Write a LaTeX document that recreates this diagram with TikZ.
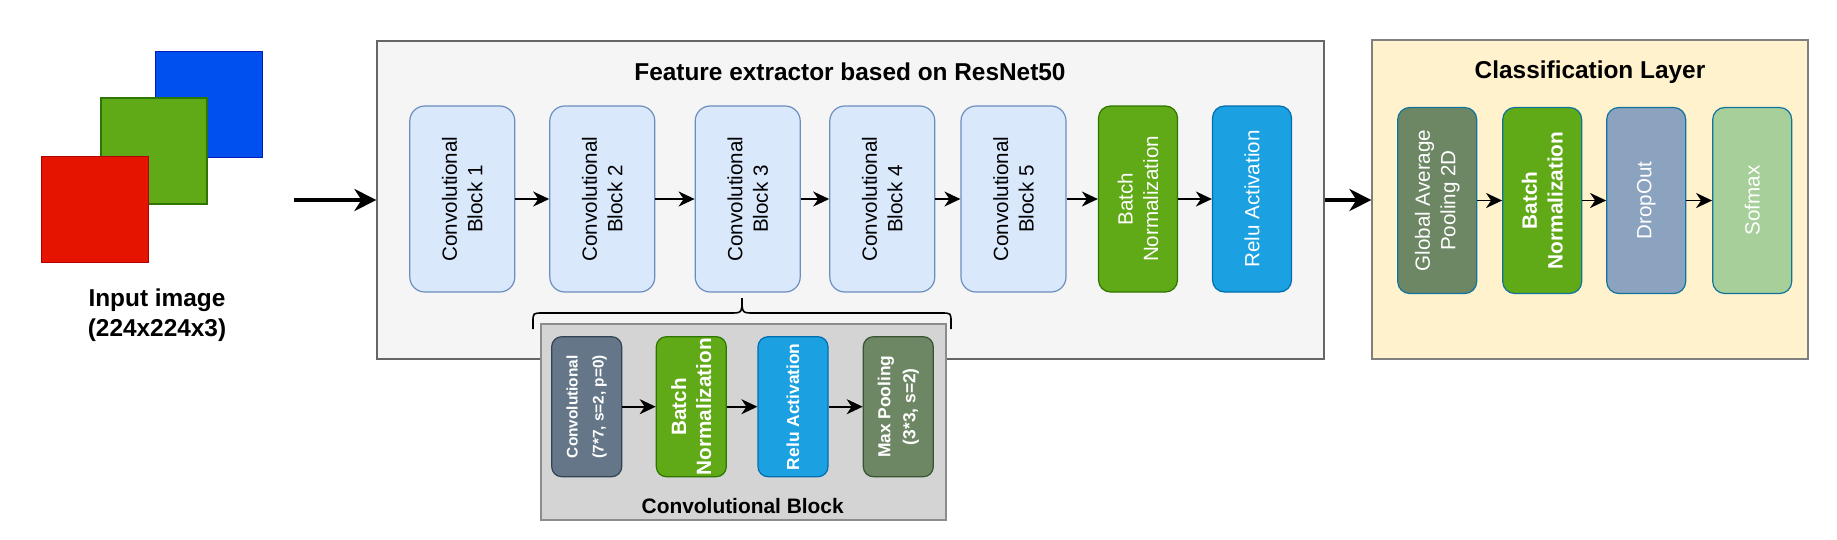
\documentclass[tikz,border=0pt]{standalone}
\usepackage{fontspec}
\setmainfont{Liberation Sans}
\usetikzlibrary{arrows.meta,positioning}
\definecolor{featfill}{HTML}{F5F5F5}
\definecolor{featline}{HTML}{666666}
\definecolor{clsfill}{HTML}{FFF2CC}
\definecolor{clsline}{HTML}{808080}
\definecolor{grayfill}{HTML}{D4D4D4}
\definecolor{grayline}{HTML}{8C8C8C}
\definecolor{convfill}{HTML}{DAE8FC}
\definecolor{convline}{HTML}{6C8EBF}
\definecolor{bnfill}{HTML}{60A917}
\definecolor{bnline}{HTML}{2D7600}
\definecolor{relufill}{HTML}{1BA1E2}
\definecolor{reluline}{HTML}{006EAF}
\definecolor{slatefill}{HTML}{647687}
\definecolor{slateline}{HTML}{314354}
\definecolor{olivefill}{HTML}{6D8764}
\definecolor{oliveline}{HTML}{3A5431}
\definecolor{dropfill}{HTML}{8BA3BE}
\definecolor{softfill}{HTML}{A7CF9A}
\definecolor{clsblue}{HTML}{10739E}
\definecolor{imgblue}{HTML}{0050EF}
\definecolor{imgblueline}{HTML}{001DBC}
\definecolor{imgred}{HTML}{E51400}
\definecolor{imgredline}{HTML}{B20000}
\newcommand\blkfont{\fontsize{20.6}{25.5}\selectfont}
\newcommand\titlefont{\fontsize{24.4}{29}\selectfont\bfseries}
\tikzset{
  blk/.style={draw, rotate=90, align=center, inner sep=0pt, line width=1.2pt},
  bigblk/.style={blk, rounded corners=15pt, minimum width=186pt, minimum height=105pt},
  midblk/.style={blk, rounded corners=12pt, minimum width=186pt, minimum height=79pt},
  smallblk/.style={blk, rounded corners=10pt, minimum width=140pt, minimum height=70pt, text=white},
  arr/.style={-{Stealth[length=16pt,width=15pt,inset=5pt]}, line width=1.8pt},
  bigarr/.style={-{Stealth[length=22pt,width=22pt,inset=7pt]}, line width=3.5pt},
}
\begin{document}
\begin{tikzpicture}[x=1pt,y=-1pt]
  \useasboundingbox (0,0) rectangle (1837,539);
  % input image
  \draw[fill=imgblue, draw=imgblueline, line width=1pt] (155,51) rectangle (262,157);
  \draw[fill=bnfill, draw=bnline, line width=1.5pt] (101,98) rectangle (207,204);
  \draw[fill=imgred, draw=imgredline, line width=1pt] (41,156) rectangle (148,262);
  \node[align=center, font=\fontsize{24.4}{30}\selectfont\bfseries] (inlabel) at (157,315) {Input image\\(224x224x3)};
  \coordinate (instart) at (294,200);

  % feature extractor
  \node[draw=featline, fill=featfill, line width=1.2pt, minimum width=947pt, minimum height=318pt] (feat) at (850.5,200) {};
  \node[font=\titlefont] (feattitle) at (850,72) {Feature extractor based on ResNet50};
  \node[bigblk, fill=convfill, draw=convline, font=\blkfont] (b1) at (462.3,199) {Convolutional\\Block 1};
  \node[bigblk, fill=convfill, draw=convline, font=\blkfont] (b2) at (602.3,199) {Convolutional\\Block 2};
  \node[bigblk, fill=convfill, draw=convline, font=\blkfont] (b3) at (747.7,199) {Convolutional\\Block 3};
  \node[bigblk, fill=convfill, draw=convline, font=\blkfont] (b4) at (882.3,199) {Convolutional\\Block 4};
  \node[bigblk, fill=convfill, draw=convline, font=\blkfont] (b5) at (1013.5,199) {Convolutional\\Block 5};
  \node[midblk, fill=bnfill, draw=bnline, text=white, font=\blkfont] (fbn) at (1138,199) {Batch\\Normalization};
  \node[midblk, fill=relufill, draw=reluline, text=white, font=\blkfont] (frelu) at (1252,199) {Relu Activation};
  \draw[arr] (b1) -- (b2);
  \draw[arr] (b2) -- (b3);
  \draw[arr] (b3) -- (b4);
  \draw[arr] (b4) -- (b5);
  \draw[arr] (b5) -- (fbn);
  \draw[arr] (fbn) -- (frelu);

  % brace under block 3
  \draw[line width=1.6pt] (533,329) -- (533,322) .. controls (533,313) .. (543,313) -- (730,313)
    .. controls (742,313) .. (742,298) .. controls (742,313) .. (754,313) -- (941,313)
    .. controls (951,313) .. (951,322) -- (951,329);

  % convolutional block detail
  \node[draw=grayline, fill=grayfill, line width=1.2pt, minimum width=405pt, minimum height=196pt] (convbox) at (743.5,422) {};
  \node[font=\fontsize{20.9}{25}\selectfont\bfseries] (convtitle) at (742.7,506) {Convolutional Block};
  \node[smallblk, fill=slatefill, draw=slateline, font=\fontsize{15.4}{26}\selectfont\bfseries] (cconv) at (586.7,406.7) {Convolutional\\(7*7, s=2, p=0)};
  \node[smallblk, fill=bnfill, draw=bnline, font=\fontsize{20.7}{25}\selectfont\bfseries] (cbn) at (691.3,406.7) {Batch\\Normalization};
  \node[smallblk, fill=relufill, draw=reluline, font=\fontsize{17.4}{25}\selectfont\bfseries] (crelu) at (793,406.7) {Relu Activation};
  \node[smallblk, fill=olivefill, draw=oliveline, font=\fontsize{17.4}{25}\selectfont\bfseries] (cpool) at (898.3,406.7) {Max Pooling\\(3*3, s=2)};
  \draw[arr] (cconv) -- (cbn);
  \draw[arr] (cbn) -- (crelu);
  \draw[arr] (crelu) -- (cpool);

  % classification layer
  \node[draw=clsline, fill=clsfill, line width=1.2pt, minimum width=436pt, minimum height=319pt] (cls) at (1590,199.5) {};
  \node[font=\titlefont] (clstitle) at (1590,72) {Classification Layer};
  \node[midblk, fill=olivefill, draw=clsblue, text=white, font=\blkfont] (gap) at (1437.2,200.5) {Global Average\\Pooling 2D};
  \node[midblk, fill=bnfill, draw=clsblue, text=white, font=\fontsize{20.8}{25.7}\selectfont\bfseries] (cbn2) at (1542.2,200.5) {Batch\\Normalization};
  \node[midblk, fill=dropfill, draw=clsblue, text=white, font=\blkfont] (drop) at (1646.2,200.5) {DropOut};
  \node[midblk, fill=softfill, draw=clsblue, text=white, font=\blkfont] (soft) at (1752.2,200.5) {Sofmax};
  \draw[arr] (gap) -- (cbn2);
  \draw[arr] (cbn2) -- (drop);
  \draw[arr] (drop) -- (soft);

  % main flow
  \draw[bigarr] (instart) -- (feat.west |- instart);
  \draw[bigarr] (feat.east) -- (cls.west |- feat.east);
\end{tikzpicture}
\end{document}
